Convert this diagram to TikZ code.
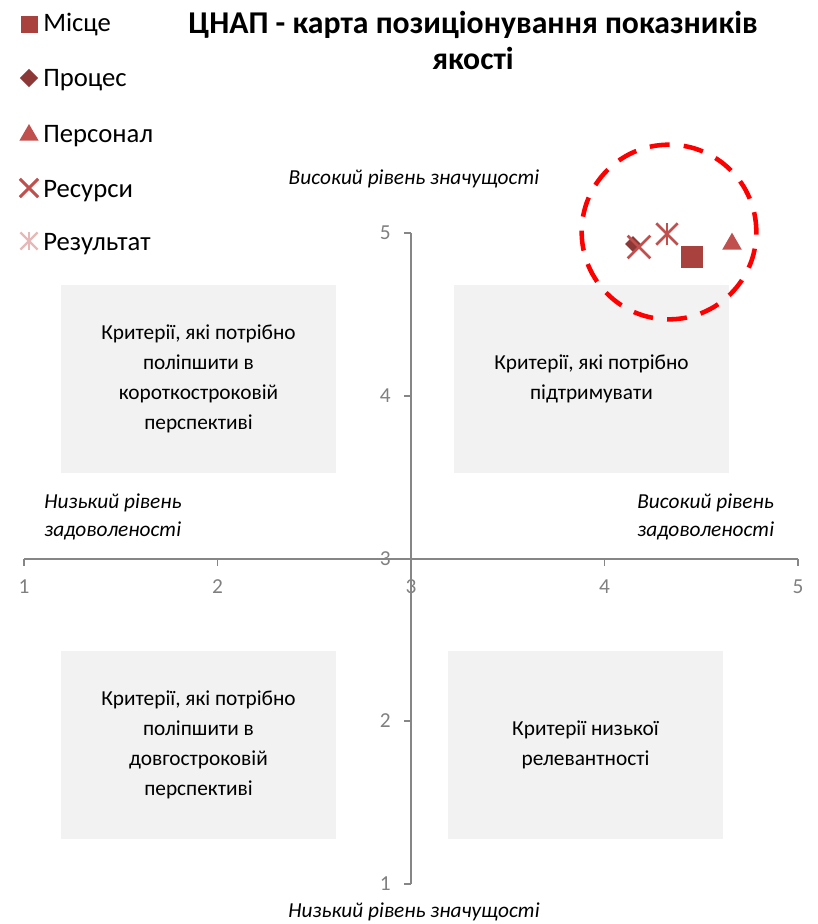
\documentclass[tikz,border=0pt]{standalone}
\usepackage{fontspec}
\setmainfont{Carlito}
\usetikzlibrary{shapes.geometric,shapes.misc}
\definecolor{axisgray}{HTML}{868686}
\definecolor{ticktext}{HTML}{808080}
\definecolor{boxgray}{HTML}{F2F2F2}
\definecolor{mred}{HTML}{C0504D}
\definecolor{mdark}{HTML}{8C3836}
\definecolor{msq}{HTML}{A9423F}
\definecolor{mpink}{HTML}{E6B9B8}
\begin{document}
\begin{tikzpicture}[x=0.75pt,y=-0.75pt,
  quad/.style={fill=boxgray,draw=none,minimum width=206.25pt,minimum height=141pt,align=center,
     font=\fontsize{16}{22.5}\selectfont,text=black},
  axisline/.style={draw=axisgray,line width=1.5pt},
  tickline/.style={draw=axisgray,line width=1.2pt},
  ticklab/.style={text=ticktext,font=\fontsize{16}{18}\selectfont,inner sep=0pt},
  sidelab/.style={font=\itshape\fontsize{16}{21}\selectfont,align=left,inner sep=0pt},
  legtext/.style={anchor=base west,font=\fontsize{20}{22}\selectfont,inner sep=0pt},
  sqmark/.style={rectangle,fill=#1,inner sep=0pt},
  dmmark/.style={diamond,fill=#1,inner sep=0pt},
  trmark/.style={regular polygon,regular polygon sides=3,fill=#1,inner sep=0pt},
  xmark/.style={cross out,draw=#1,inner sep=0pt},
]
\useasboundingbox (0,0) rectangle (817,924);

% title
\node[font=\bfseries\fontsize{23.8}{27}\selectfont,align=center] (title) at (473,40)
  {ЦНАП - карта позиціонування показників\\якості};

% quadrant boxes
\node[quad] (q1) at (198.5,379) {Критерії, які потрібно\\поліпшити в\\короткостроковій\\перспективі};
\node[quad] (q2) at (591.5,379) {Критерії, які потрібно\\підтримувати};
\node[quad] (q3) at (198.5,745) {Критерії, які потрібно\\поліпшити в\\довгостроковій\\перспективі};
\node[quad] (q4) at (585.5,745) {Критерії низької\\релевантності};

% axis side labels
\node[sidelab,anchor=center] (ytop) at (414,179) {Високий рівень значущості};
\node[sidelab,anchor=center] (ybot) at (414,912) {Низький рівень значущості};
\node[sidelab,anchor=west] (xleft) at (44,517) {Низький рівень\\задоволеності};
\node[sidelab,anchor=west] (xright) at (637,517) {Високий рівень\\задоволеності};

% tick labels
\node[ticklab,anchor=east] (yl5) at (391,233) {5};
\node[ticklab,anchor=east] (yl4) at (391,396) {4};
\node[ticklab,anchor=east] (yl3) at (391,559) {3};
\node[ticklab,anchor=east] (yl2) at (391,721) {2};
\node[ticklab,anchor=east] (yl1) at (391,884) {1};
\node[ticklab] (xl1) at (24,587) {1};
\node[ticklab] (xl2) at (217.5,587) {2};
\node[ticklab] (xl3) at (411,587) {3};
\node[ticklab] (xl4) at (604.5,587) {4};
\node[ticklab] (xl5) at (798,587) {5};

% axes
\coordinate (xa) at (24,559);
\coordinate (xb) at (798,559);
\coordinate (ya) at (411,233);
\coordinate (yb) at (411,884);
\draw[axisline] (xa) -- (xb);
\draw[axisline] (ya) -- (yb);
\foreach \px in {24,217.5,411,604.5,798}{
  \draw[tickline] (\px,559) -- (\px,566);
}
\foreach \py in {233,396,559,721,884}{
  \draw[tickline] (404,\py) -- (411,\py);
}

% data markers
\node[dmmark=mdark,minimum width=12pt,minimum height=12pt] (p2) at (633,244) {};
\node[xmark=mred,minimum size=15pt,line width=2pt] (p4) at (639,247) {};
\node[xmark=mred,minimum size=14pt,line width=2pt] (p5) at (667,234) {};
\draw[mred,line width=2pt] (p5.north) -- (p5.south);
\node[sqmark=msq,minimum size=16.5pt] (p1) at (692,257) {};
\node[trmark=mred,minimum size=17pt] (p3) at (732,244) {};

% highlight circle
\node[circle,draw=red,line width=3.4pt,dash pattern=on 15pt off 10.6pt,minimum size=131pt] (hl) at (669,232) {};

% legend
\node[sqmark=msq,minimum size=12.75pt] (l1) at (29,25) {};
\node[legtext] (t1) at (43,32) {Місце};
\node[dmmark=mdark,minimum width=14pt,minimum height=14pt] (l2) at (29,78) {};
\node[legtext] (t2) at (43,87) {Процес};
\node[trmark=mred,minimum size=16.5pt] (l3) at (29,135) {};
\node[legtext] (t3) at (43,142) {Персонал};
\node[xmark=mred,minimum size=11.5pt,line width=2.2pt] (l4) at (29,188) {};
\node[legtext] (t4) at (43,197) {Ресурси};
\node[xmark=mpink,minimum size=11pt,line width=1.8pt] (l5) at (29,241) {};
\draw[mpink,line width=1.8pt] (l5.north) -- (l5.south);
\node[legtext] (t5) at (43,250) {Результат};
\end{tikzpicture}
\end{document}
